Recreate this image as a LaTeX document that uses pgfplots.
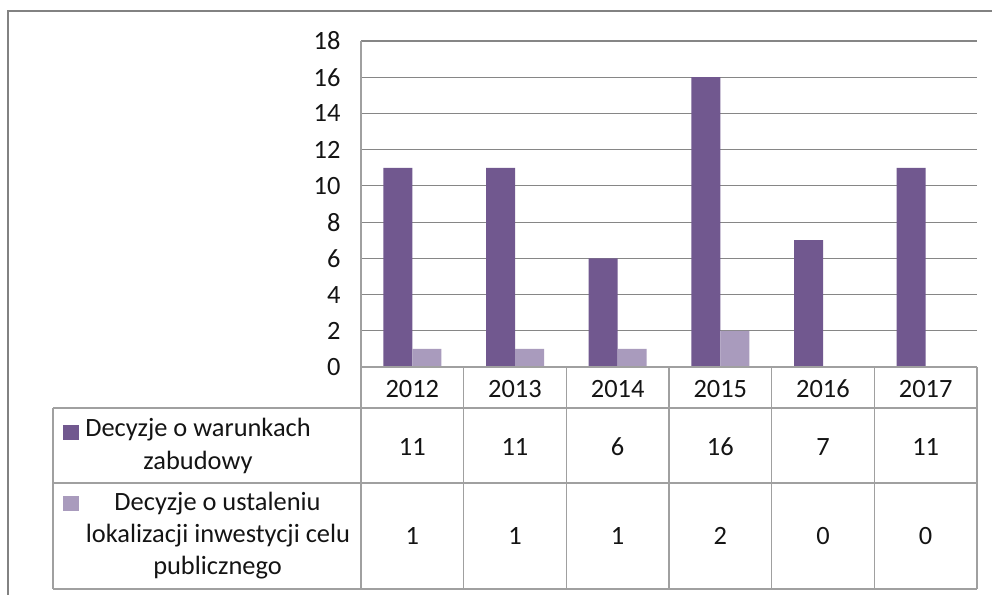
\documentclass[border=0pt]{standalone}
\usepackage{pgfplots}
\pgfplotsset{compat=1.18}
\usepackage{fontspec}
\setmainfont{Carlito}
\definecolor{darkbar}{RGB}{113,88,143}
\definecolor{lightbar}{RGB}{169,155,189}
\definecolor{gridc}{RGB}{134,134,134}
\definecolor{tablec}{RGB}{160,160,160}
\definecolor{framec}{RGB}{130,130,130}
\definecolor{textc}{RGB}{20,20,20}
\begin{document}
\begin{tikzpicture}[x=1bp,y=1bp]
\useasboundingbox (0,0) rectangle (992,-595);
\clip (0,0) rectangle (992,-595);
\fill[white] (0,0) rectangle (992,-595);
% outer frame
\draw[framec, line width=2bp] (8,-11) rectangle (1010,-610);
\begin{axis}[
  at={(361bp,-367bp)}, anchor=south west,
  scale only axis, width=616bp, height=326bp,
  xmin=-0.5, xmax=5.5, ymin=0, ymax=18,
  ytick={0,2,...,18}, xtick=\empty,
  ymajorgrids, grid style={draw=gridc, line width=1.2bp},
  axis line style={draw=none},
  major tick length=0pt,
  ybar=0pt, bar width=29bp,
  /pgf/number format/assume math mode=true,
  yticklabel style={font=\fontsize{26.5}{31}\selectfont, text=textc, anchor=east, xshift=-17bp},
  clip=false,
]
\addplot[fill=darkbar, draw=none] coordinates {(0,11) (1,11) (2,6) (3,16) (4,7) (5,11)};
\addplot[fill=lightbar, draw=none] coordinates {(0,1) (1,1) (2,1) (3,2) (4,0) (5,0)};
\end{axis}
% table lines
\begin{scope}[tablec, line width=1.5bp]
\draw (361,-41) -- (361,-589);
\draw (361,-367) -- (977,-367);
\draw (53,-408) -- (977,-408);
\draw (53,-483) -- (977,-483);
\draw (53,-589) -- (977,-589);
\draw (53,-408) -- (53,-589);
\foreach \i in {1,...,6} {
  \draw ({361+\i*102.67},-367) -- ({361+\i*102.67},-589);
}
\end{scope}
% legend keys
\fill[darkbar] (63,-425) rectangle (79,-440);
\fill[lightbar] (63,-496) rectangle (79,-511);
\begin{scope}[every node/.style={font=\fontsize{26.5}{31}\selectfont, text=textc, anchor=base, inner sep=0pt}]
\node at (198,-436) {Decyzje o warunkach};
\node at (198,-469) {zabudowy};
\node at (217.5,-510) {Decyzje o ustaleniu};
\node at (218,-542) {lokalizacji inwestycji celu};
\node at (217.5,-574) {publicznego};
\foreach \y [count=\i from 0] in {2012,2013,2014,2015,2016,2017} {
  \node at ({412.3+\i*102.67},-397) {\y};
}
\foreach \v [count=\i from 0] in {11,11,6,16,7,11} {
  \node at ({412.3+\i*102.67},-455) {\v};
}
\foreach \v [count=\i from 0] in {1,1,1,2,0,0} {
  \node at ({412.3+\i*102.67},-544) {\v};
}
\end{scope}
\end{tikzpicture}
\end{document}
